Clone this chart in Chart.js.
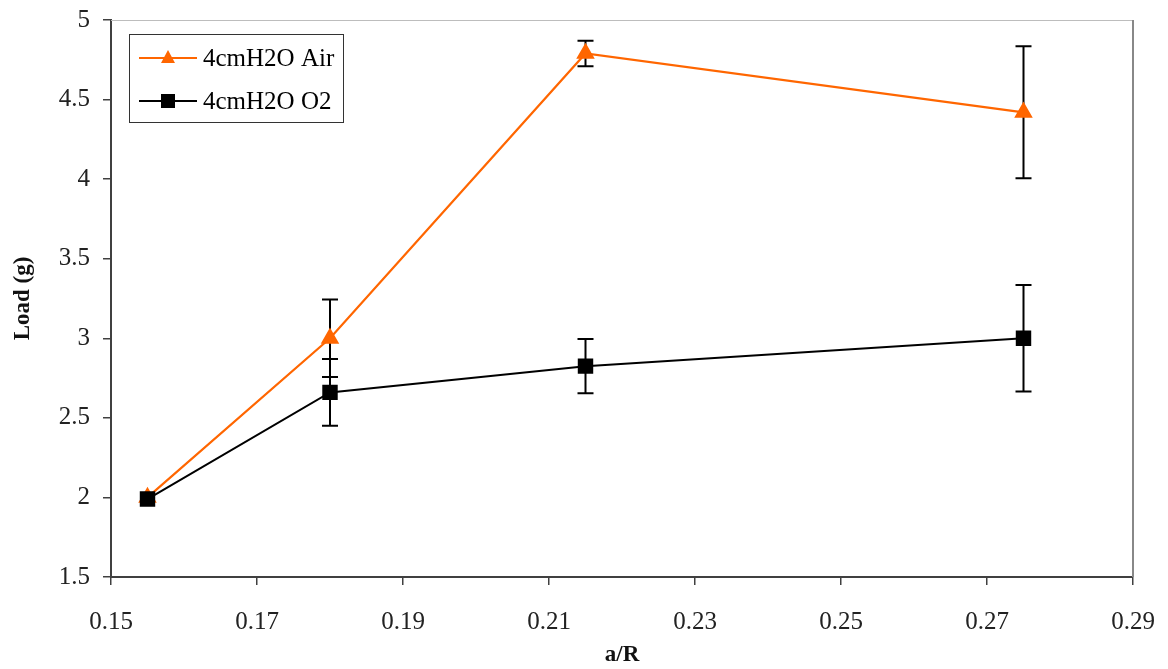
<!DOCTYPE html>
<html>
<head>
<meta charset="utf-8">
<script src="https://cdn.jsdelivr.net/npm/chart.js@4/dist/chart.umd.min.js"></script>
<style>
    body { margin: 0; background: #fff; }
</style>
</head>
<body>
<canvas id="load" width="1168" height="669"></canvas>
<script>
// values
const ratios = [0.155, 0.18, 0.215, 0.275];
const airLoad = [2.0, 3.0, 4.79, 4.42];
const airErr = [0, 0.243, 0.08, 0.415];
const o2Load = [1.99, 2.66, 2.825, 3.0];
const o2Err = [0, 0.21, 0.17, 0.335];
const seriesNames = ['4cmH2O Air', '4cmH2O O2'];

const serif = "'Liberation Serif', 'Times New Roman', serif";
const orange = '#ff6600';

const toPoints = (xs, ys) => xs.map((x, i) => ({ x: x, y: ys[i] }));
const fmt = (v) => String(+Number(v).toFixed(2));

// error bars, drawn before the markers so the markers sit on top
const errorBars = {
    id: 'errorBars',
    beforeDatasetsDraw(chart) {
        const ctx = chart.ctx;
        const xs = chart.scales.x;
        const ys = chart.scales.y;
        const sets = [[airLoad, airErr], [o2Load, o2Err]];
        ctx.save();
        ctx.strokeStyle = '#000';
        ctx.lineWidth = 2;
        sets.forEach(([vals, errs]) => {
            vals.forEach((v, i) => {
                if (!errs[i]) return;
                const px = xs.getPixelForValue(ratios[i]);
                const top = ys.getPixelForValue(v + errs[i]);
                const bot = ys.getPixelForValue(v - errs[i]);
                ctx.beginPath();
                ctx.moveTo(px, top);
                ctx.lineTo(px, bot);
                ctx.moveTo(px - 8, top);
                ctx.lineTo(px + 8, top);
                ctx.moveTo(px - 8, bot);
                ctx.lineTo(px + 8, bot);
                ctx.stroke();
            });
        });
        ctx.restore();
    }
};

// top/right plot border and the boxed legend inside the plot
const frameAndLegend = {
    id: 'frameAndLegend',
    afterDraw(chart) {
        const ctx = chart.ctx;
        const a = chart.chartArea;
        ctx.save();
        ctx.strokeStyle = '#bdbdbd';
        ctx.lineWidth = 1;
        ctx.beginPath();
        ctx.moveTo(a.left, a.top + 0.5);
        ctx.lineTo(a.right, a.top + 0.5);
        ctx.stroke();
        ctx.strokeStyle = '#888';
        ctx.lineWidth = 2;
        ctx.beginPath();
        ctx.moveTo(a.right, a.top);
        ctx.lineTo(a.right, a.bottom);
        ctx.stroke();

        const bx = a.left + 18, by = a.top + 14;
        ctx.fillStyle = '#fff';
        ctx.fillRect(bx, by, 214, 88);
        ctx.strokeStyle = '#333';
        ctx.lineWidth = 1;
        ctx.strokeRect(bx + 0.5, by + 0.5, 214, 88);

        const rows = [by + 24, by + 67];
        const colors = [orange, '#000'];
        ctx.font = '25px ' + serif;
        ctx.textBaseline = 'middle';
        rows.forEach((ry, i) => {
            ctx.strokeStyle = colors[i];
            ctx.lineWidth = 2;
            ctx.beginPath();
            ctx.moveTo(bx + 10, ry);
            ctx.lineTo(bx + 68, ry);
            ctx.stroke();
            ctx.fillStyle = colors[i];
            const mx = bx + 39;
            ctx.beginPath();
            if (i === 0) {
                ctx.moveTo(mx, ry - 8);
                ctx.lineTo(mx + 7, ry + 5);
                ctx.lineTo(mx - 7, ry + 5);
                ctx.closePath();
            } else {
                ctx.rect(mx - 7, ry - 7, 14, 14);
            }
            ctx.fill();
            ctx.fillStyle = '#000';
            ctx.fillText(seriesNames[i], bx + 74, ry + 1);
        });
        ctx.restore();
    }
};

const loadConfig = {
    type: 'line',
    data: {
        datasets: [
            {
                label: seriesNames[0],
                data: toPoints(ratios, airLoad),
                borderColor: orange,
                backgroundColor: orange,
                borderWidth: 2.2,
                pointStyle: 'triangle',
                pointRadius: 8.5,
                pointHoverRadius: 8.5,
                tension: 0,
                order: 1
            },
            {
                label: seriesNames[1],
                data: toPoints(ratios, o2Load),
                borderColor: '#000',
                backgroundColor: '#000',
                borderWidth: 2,
                pointStyle: 'rect',
                pointRadius: 9.5,
                pointHoverRadius: 9.5,
                tension: 0,
                order: 0
            }
        ]
    },
    options: {
        responsive: false,
        animation: false,
        layout: { padding: { top: 20, right: 35, left: 0, bottom: 0 } },
        plugins: {
            legend: { display: false },
            tooltip: { enabled: false }
        },
        scales: {
            x: {
                type: 'linear',
                min: 0.15,
                max: 0.29,
                afterFit: (s) => { s.height = 92; s.paddingLeft = 0; s.paddingRight = 0; },
                ticks: {
                    stepSize: 0.02,
                    padding: 22,
                    color: '#222',
                    font: { family: serif, size: 25 },
                    callback: fmt
                },
                grid: { drawOnChartArea: false, tickLength: 8, color: '#404040', lineWidth: 1.5 },
                border: { color: '#404040', width: 2 },
                title: {
                    display: true,
                    text: 'a/R',
                    color: '#111',
                    font: { family: serif, size: 23, weight: 'bold' },
                    padding: { top: 0, bottom: 0 }
                }
            },
            y: {
                min: 1.5,
                max: 5,
                afterFit: (s) => { s.width = 111; s.paddingTop = 0; s.paddingBottom = 0; },
                ticks: {
                    stepSize: 0.5,
                    padding: 13,
                    color: '#222',
                    font: { family: serif, size: 25 },
                    callback: fmt
                },
                grid: { drawOnChartArea: false, tickLength: 8, color: '#404040', lineWidth: 1.5 },
                border: { color: '#404040', width: 2 },
                title: {
                    display: true,
                    text: 'Load (g)',
                    color: '#111',
                    font: { family: serif, size: 23, weight: 'bold' },
                    padding: { top: 9, bottom: 0 }
                }
            }
        }
    },
    plugins: [errorBars, frameAndLegend]
};

new Chart(document.getElementById('load'), loadConfig);
</script>
</body>
</html>
